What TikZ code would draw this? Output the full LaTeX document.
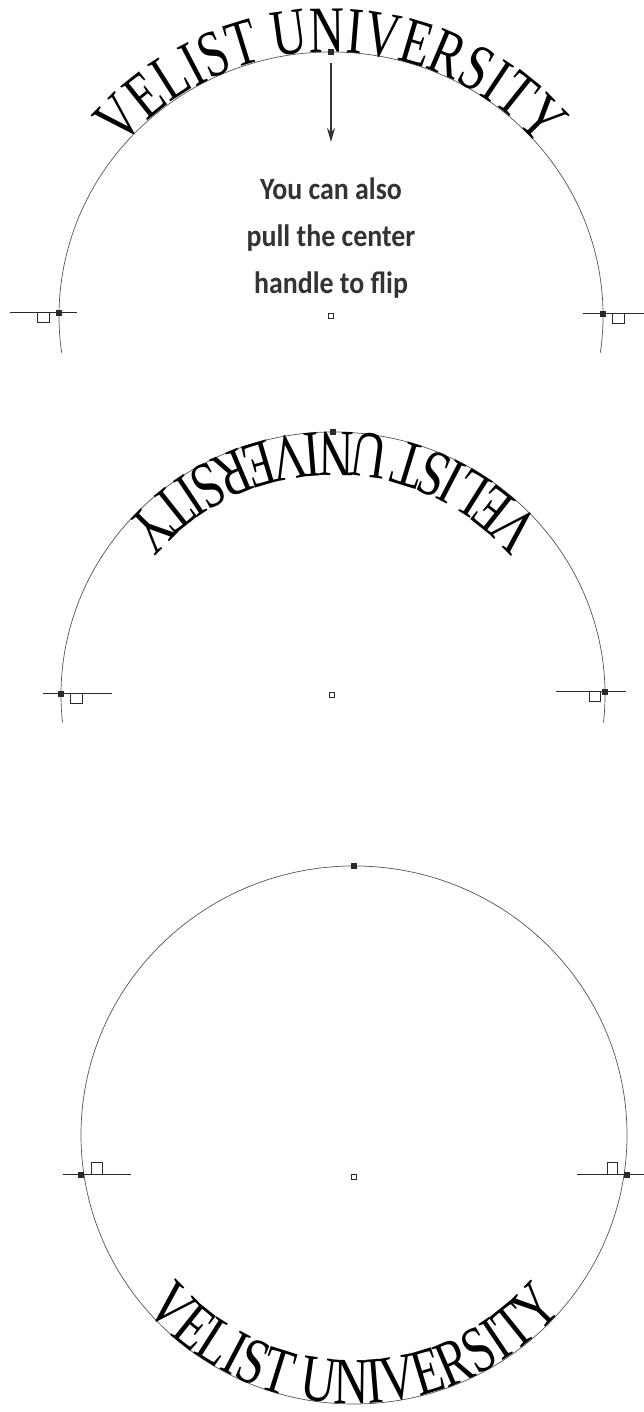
\documentclass[tikz,border=0pt]{standalone}
\usepackage{fontspec}
\setmainfont{Liberation Serif}
\newfontfamily\notefont[FakeStretch=0.9]{Carlito}
\newfontfamily\arcfont[FakeStretch=0.74]{Liberation Serif}
\usetikzlibrary{decorations.text,arrows.meta}
\definecolor{linegray}{HTML}{555555}
\definecolor{notegray}{HTML}{333333}
\definecolor{hgray}{HTML}{2A2A2A}
\begin{document}
\begin{tikzpicture}[x=1pt,y=1pt,
  curve/.style={draw=linegray, line width=0.7pt},
  tick/.style={draw=hgray, line width=1pt},
  hdl/.style={rectangle, fill=hgray, minimum size=5.5pt, inner sep=0pt},
  ctr/.style={rectangle, draw=hgray, fill=white, line width=0.7pt, minimum size=5pt, inner sep=0pt},
  arctext/.style={decorate, decoration={text along path, text align=center,
     text={|\arcfont\fontsize{66}{66}\selectfont|VELIST UNIVERSITY}}},
  pointer/.style={draw=notegray, line width=1.3pt, -{Stealth[length=14pt,width=8pt]}},
  note/.style={align=center, text=notegray, font=\notefont\bfseries\fontsize{31}{47}\selectfont}
]
\fill[white] (0,0) rectangle (644,1412);
\useasboundingbox (0,0) rectangle (644,1412);

% ---------- panel 1 ----------
\coordinate (C1) at (331,1096);
\draw[curve] (C1) ++(-8:272 and 264) arc[start angle=-8, end angle=188, x radius=272, y radius=264];
\path[arctext] (C1) ++(170:272 and 264) arc[start angle=170, end angle=10, x radius=272, y radius=264];
\draw[tick] (10,1099) -- (77,1099);
\draw[tick] (37,1099) rectangle (49,1089);
\draw[tick] (583,1098) -- (644,1098);
\draw[tick] (612,1098) rectangle (624,1088);
\node[hdl] (t1) at (331,1360) {};
\node[hdl] (l1) at (59,1099) {};
\node[hdl] (r1) at (603,1098) {};
\node[ctr] (c1) at (331,1096) {};
\coordinate (a1s) at (331,1349);
\coordinate (a1e) at (331,1270);
\draw[pointer] (a1s) -- (a1e);
\node[note] (n1) at (331,1174) {You can also\\pull the center\\handle to flip};

% ---------- panel 2 ----------
\coordinate (C2) at (333,717);
\draw[curve] (C2) ++(-6:272 and 263) arc[start angle=-6, end angle=186, x radius=272, y radius=263];
\path[arctext] (C2) ++(10:272 and 263) arc[start angle=10, end angle=170, x radius=272, y radius=263];
\draw[tick] (43,718) -- (112,718);
\draw[tick] (70,718) rectangle (82,708);
\draw[tick] (556,720) -- (626,720);
\draw[tick] (589,720) rectangle (600,710);
\node[hdl] (t2) at (333,980) {};
\node[hdl] (l2) at (61,718) {};
\node[hdl] (r2) at (605,720) {};
\node[ctr] (c2) at (332,717) {};

% ---------- panel 3 ----------
\coordinate (C3) at (354,277);
\draw[curve] (C3) ellipse[x radius=273, y radius=269];
\path[arctext] (C3) ++(200:273 and 269) arc[start angle=200, end angle=340, x radius=273, y radius=269];
\draw[tick] (63,237) -- (131,237);
\draw[tick] (91,237) rectangle (102,249);
\draw[tick] (577,237) -- (644,237);
\draw[tick] (607,237) rectangle (617,249);
\node[hdl] (t3) at (354,546) {};
\node[hdl] (l3) at (81,237) {};
\node[hdl] (r3) at (627,237) {};
\node[ctr] (c3) at (354,235) {};
\end{tikzpicture}
\end{document}
